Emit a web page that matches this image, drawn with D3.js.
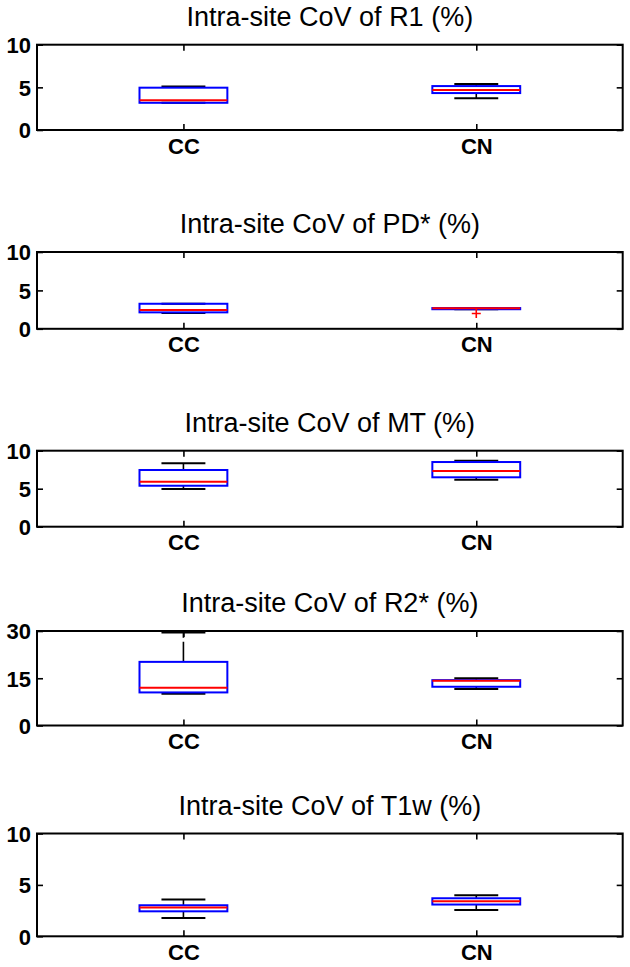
<!DOCTYPE html>
<html>
<head>
<meta charset="utf-8">
<script src="https://cdn.jsdelivr.net/npm/d3@7"></script>
<style>
  html, body { margin: 0; padding: 0; background: #fff; }
  svg { display: block; }
</style>
</head>
<body>
<script>
// ---------------- data ----------------
const titles = [
  "Intra-site CoV of R1 (%)",
  "Intra-site CoV of PD* (%)",
  "Intra-site CoV of MT (%)",
  "Intra-site CoV of R2* (%)",
  "Intra-site CoV of T1w (%)"
];
const categories = ["CC", "CN"];
const lowerWhisker = [[3.20, 3.71], [2.05, 2.55], [4.96, 6.18], [10.1, 11.6], [1.78, 2.56]];
const q1Values     = [[3.19, 4.33], [2.14, 2.55], [5.39, 6.50], [10.5, 12.3], [2.43, 3.09]];
const medianValues = [[3.50, 4.68], [2.44, 2.68], [5.92, 7.33], [12.0, 14.2], [2.79, 3.41]];
const q3Values     = [[4.96, 5.15], [3.26, 2.70], [7.46, 8.51], [20.2, 14.4], [3.02, 3.70]];
const upperWhisker = [[5.11, 5.38], [3.26, 2.70], [8.34, 8.68], [29.5, 15.0], [3.57, 3.99]];
const outliers     = [[[], []], [[], [2.0]], [[], []], [[], []], [[], []]];
const yMax   = [10, 10, 10, 30, 10];
const yTicks = [[0, 5, 10], [0, 5, 10], [0, 5, 10], [0, 15, 30], [0, 5, 10]];

// ---------------- layout ----------------
const W = 630, H = 967;
const axLeft = 37, axRight = 622.7;
const panels = [
  { top: 44.7,  bottom: 130.0 },
  { top: 252.0, bottom: 328.8 },
  { top: 450.7, bottom: 526.7 },
  { top: 631.0, bottom: 725.5 },
  { top: 833.5, bottom: 936.3 }
];
const boxWidth = 0.30, capWidth = 0.15, tickLen = 6;

const svg = d3.select("body").append("svg")
  .attr("width", W).attr("height", H)
  .style("font-family", "'Liberation Sans', Arial, sans-serif");

const x = d3.scaleLinear().domain([0.5, 2.5]).range([axLeft, axRight]);

panels.forEach((p, i) => {
  const y = d3.scaleLinear().domain([0, yMax[i]]).range([p.bottom, p.top]);
  const g = svg.append("g");

  // title
  g.append("text")
    .attr("x", (axLeft + axRight) / 2)
    .attr("y", p.top - 19)
    .attr("text-anchor", "middle")
    .attr("font-size", 27)
    .attr("fill", "#000")
    .text(titles[i]);

  // boxes
  categories.forEach((c, j) => {
    const cx = x(j + 1);
    const hw = x(1 + boxWidth / 2) - x(1);
    const cw = x(1 + capWidth / 2) - x(1);
    // whiskers (dashed)
    g.append("line")
      .attr("x1", cx).attr("x2", cx)
      .attr("y1", y(q3Values[i][j])).attr("y2", y(upperWhisker[i][j]))
      .attr("stroke", "#000").attr("stroke-width", 1.6)
      .attr("stroke-dasharray", "20,4");
    g.append("line")
      .attr("x1", cx).attr("x2", cx)
      .attr("y1", y(q1Values[i][j])).attr("y2", y(lowerWhisker[i][j]))
      .attr("stroke", "#000").attr("stroke-width", 1.6)
      .attr("stroke-dasharray", "20,4");
    // caps
    [upperWhisker[i][j], lowerWhisker[i][j]].forEach(v => {
      g.append("line")
        .attr("x1", cx - cw).attr("x2", cx + cw)
        .attr("y1", y(v)).attr("y2", y(v))
        .attr("stroke", "#000").attr("stroke-width", 2);
    });
    // box
    g.append("rect")
      .attr("x", cx - hw).attr("width", 2 * hw)
      .attr("y", y(q3Values[i][j]))
      .attr("height", Math.max(0.5, y(q1Values[i][j]) - y(q3Values[i][j])))
      .attr("fill", "none").attr("stroke", "#0000ff").attr("stroke-width", 2);
    // median
    g.append("line")
      .attr("x1", cx - hw).attr("x2", cx + hw)
      .attr("y1", y(medianValues[i][j])).attr("y2", y(medianValues[i][j]))
      .attr("stroke", "#ff0000").attr("stroke-width", 2);
    // outliers
    outliers[i][j].forEach(v => {
      const oy = y(v);
      g.append("path")
        .attr("d", `M${cx - 4.5},${oy}H${cx + 4.5}M${cx},${oy - 4.5}V${oy + 4.5}`)
        .attr("stroke", "#ff0000").attr("stroke-width", 1.6).attr("fill", "none");
    });
  });

  // axes frame
  g.append("rect")
    .attr("x", axLeft).attr("y", p.top)
    .attr("width", axRight - axLeft).attr("height", p.bottom - p.top)
    .attr("fill", "none").attr("stroke", "#000").attr("stroke-width", 2);

  // y axis (left, inward ticks)
  const yAxisL = d3.axisLeft(y).tickValues(yTicks[i]).tickSize(-tickLen).tickPadding(6).tickFormat(d3.format("d"));
  const gl = g.append("g").attr("transform", `translate(${axLeft},0)`).call(yAxisL);
  const yAxisR = d3.axisRight(y).tickValues(yTicks[i]).tickSize(-tickLen).tickFormat("");
  const gr = g.append("g").attr("transform", `translate(${axRight},0)`).call(yAxisR);
  // x axis (bottom & top, inward ticks)
  const xAxisB = d3.axisBottom(x).tickValues([1, 2]).tickSize(-tickLen).tickPadding(8)
    .tickFormat(d => categories[d - 1]);
  const gb = g.append("g").attr("transform", `translate(0,${p.bottom})`).call(xAxisB);
  const xAxisT = d3.axisTop(x).tickValues([1, 2]).tickSize(-tickLen).tickFormat("");
  const gt = g.append("g").attr("transform", `translate(0,${p.top})`).call(xAxisT);

  [gl, gr, gb, gt].forEach(a => {
    a.select(".domain").remove();
    a.selectAll(".tick line").attr("stroke", "#000").attr("stroke-width", 1.6);
    a.selectAll("text").attr("fill", "#000").attr("font-weight", "bold")
      .style("font-family", "'Liberation Sans', Arial, sans-serif");
  });
  gl.selectAll("text").attr("font-size", 22).attr("dy", "0.36em");
  gb.selectAll("text").attr("font-size", 22).attr("dy", "0.71em");
});
</script>
</body>
</html>
